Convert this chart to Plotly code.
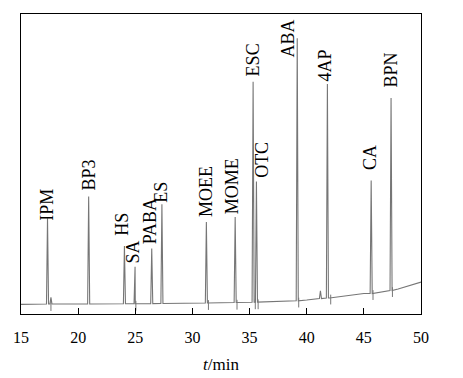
import plotly.graph_objects as go

# ---- data ----
peak_names = ["IPM", "BP3", "HS", "SA", "PABA", "ES", "MOEE", "MOME",
              "ESC", "OTC", "ABA", "4AP", "CA", "BPN"]
peak_times = [17.32, 20.92, 24.05, 24.98, 26.44, 27.33, 31.22, 33.74,
              35.31, 35.60, 39.17, 41.81, 45.64, 47.38]
peak_tops = [96, 118, 68.3, 47.3, 65.7, 110, 92.3, 97.3,
             233, 133, 276.7, 230.7, 134, 216.7]
peak_bases = [10, 10, 10.3, 10.3, 10.4, 10.5, 11, 11.5,
              11.8, 11.9, 13.2, 16, 20.5, 23.5]

# unlabeled minor peaks
minor_times = [17.62, 41.20]
minor_tops = [16.7, 23.3]
minor_bases = [10, 15.5]

# baseline drift
base_times = [15, 20, 25, 30, 35, 38, 40, 42, 44, 45, 47, 48, 50]
base_vals = [9.7, 10, 10.3, 10.7, 12, 13, 14, 16, 19, 20.5, 23, 25, 32]

# integration marks
mark_times = [17.62, 25.05, 31.40, 33.90, 35.50, 35.75, 39.30, 42.10, 45.80, 47.50]
mark_vals = [10, 10.3, 11, 11.3, 11.7, 11.7, 13.5, 16.5, 21, 24]

x_ticks = [15, 20, 25, 30, 35, 40, 45, 50]

# ---- build the trace (peak list merged with baseline points) ----
half_w = 0.09
pts = [(t, v) for t, v in zip(base_times, base_vals)]
for t, top, b in list(zip(peak_times, peak_tops, peak_bases)) + list(zip(minor_times, minor_tops, minor_bases)):
    pts += [(t - half_w, b), (t, top), (t + half_w, b)]
pts.sort(key=lambda p: p[0])
xs = [p[0] for p in pts]
ys = [p[1] for p in pts]

line_color = "#767676"
fig = go.Figure()
fig.add_trace(go.Scatter(x=xs, y=ys, mode="lines",
                         line=dict(color=line_color, width=1.1),
                         hoverinfo="skip", showlegend=False))
fig.add_trace(go.Scatter(x=mark_times, y=[v - 2 for v in mark_vals], mode="markers",
                         marker=dict(symbol="line-ns", size=7,
                                     line=dict(color=line_color, width=1)),
                         hoverinfo="skip", showlegend=False))

# label offsets (px)
label_dx = {"IPM": 0, "BP3": 0, "HS": -2, "SA": -2, "PABA": -2, "ES": -1,
            "MOEE": -1, "MOME": -3, "ESC": 0, "OTC": 6, "ABA": -9, "4AP": -2,
            "CA": -1, "BPN": -1}
label_dy = {"IPM": -4, "BP3": 5, "HS": 9, "SA": 2, "PABA": 3, "ES": 1,
            "MOEE": 4, "MOME": 2, "ESC": 4, "OTC": 3, "ABA": -20, "4AP": 2,
            "CA": 9, "BPN": 9}
for name, t, top in zip(peak_names, peak_times, peak_tops):
    fig.add_annotation(x=t, y=top, text=name, showarrow=False, textangle=-90,
                       xanchor="center", yanchor="bottom",
                       xshift=label_dx[name], yshift=label_dy[name],
                       font=dict(family="Liberation Serif", size=18, color="black"),
                       borderpad=0)

# page body has an 8px default margin, so margins are compensated
fig.update_layout(
    width=463, height=378,
    margin=dict(l=11, r=50, t=5, b=72),
    paper_bgcolor="white", plot_bgcolor="white",
    font=dict(family="Liberation Serif", size=16, color="black"),
    xaxis=dict(range=[15, 50], tickvals=x_ticks, ticks="inside", ticklen=6,
               tickcolor="black", tickwidth=1, showline=True, linecolor="black",
               linewidth=1, mirror=True, showgrid=False, zeroline=False,
               tickfont=dict(size=16), ticklabelstandoff=9,
               title=dict(text="<i>t</i>/min", font=dict(size=17), standoff=12)),
    yaxis=dict(range=[0, 301], showline=True, linecolor="black", linewidth=1,
               mirror=True, showgrid=False, zeroline=False, showticklabels=False,
               ticks=""),
)

fig.write_html("out.html")
